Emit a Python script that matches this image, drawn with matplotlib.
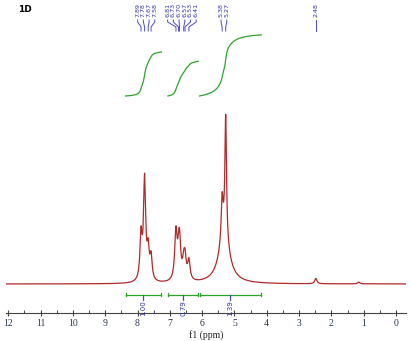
import numpy as np
import matplotlib
matplotlib.use("Agg")
import matplotlib.pyplot as plt
from matplotlib.transforms import blended_transform_factory

# ---- data ----
peak_ppm    = [7.89, 7.78, 7.67, 7.58, 6.81, 6.73, 6.70, 6.57, 6.53, 6.41, 5.38, 5.27, 5.32, 2.48, 1.15]
peak_height = [25,   57,   16,   13,   27,   6,    21,   8,    11,   11,   24,   70,   25,   3,    1]
peak_hwhm   = [0.04, 0.04, 0.04, 0.04, 0.045,0.045,0.045,0.045,0.045,0.045,0.035,0.03, 0.2,  0.04, 0.04]

label_groups = [["7.89", "7.78", "7.67", "7.58"],
                ["6.81", "6.73", "6.70", "6.57", "6.53", "6.41"],
                ["5.38", "5.27"],
                ["2.48"]]

integral_ranges = [(8.37, 7.26), (7.06, 6.12), (6.08, 4.17)]
integral_values = [1.00, 0.79, 1.39]
integral_labels = ["1.00", "0.79", "1.39"]

xticks = list(range(0, 13))
title = "1D"
xlabel = "f1 (ppm)"

# ---- figure ----
W, H = 413, 341
fig = plt.figure(figsize=(W / 100, H / 100), dpi=100)
ax = fig.add_axes([6 / W, 1 - 313 / H, 400 / W, 313 / H])

ppm = np.linspace(-0.31, 12.07, 6000)
spec = np.zeros_like(ppm)
for c, a, w in zip(peak_ppm, peak_height, peak_hwhm):
    spec += a / (1 + ((ppm - c) / w) ** 2)

px_per_unit = 1.77
ax.plot(ppm, spec, color="#b02a2a", lw=0.9)
ax.set_xlim(12.07, -0.31)
ax.set_ylim(-(313 - 284) / px_per_unit, 284 / px_per_unit)

for s in ["top", "left", "right"]:
    ax.spines[s].set_visible(False)
ax.spines["bottom"].set_color("#444444")
ax.spines["bottom"].set_linewidth(0.8)
ax.set_yticks([])
ax.set_xticks(xticks)
ax.set_xticks(np.arange(0.5, 12.5, 1.0), minor=True)
ax.tick_params(axis="x", which="major", direction="inout", length=4, width=0.8,
               color="#444444", labelsize=7, pad=2, labelcolor="#2a3550")
ax.tick_params(axis="x", which="minor", direction="in", length=2, width=0.7, color="#444444")
for lab in ax.get_xticklabels():
    lab.set_family("Liberation Serif")
ax.set_xlabel(xlabel, fontsize=7, family="Liberation Serif", labelpad=2, color="#222222")

fig.text(18 / W, 1 - 9 / H, title, fontsize=6.5, fontweight="bold", ha="left", va="center")

# ---- integrals ----
green = "#2aa52a"
bar_y = -(294.5 - 284) / px_per_unit
curve_base = (284 - 96) / px_per_unit
int_scale = 44 / px_per_unit
for (a, b), val, lab in zip(integral_ranges, integral_values, integral_labels):
    ax.plot([a, b], [bar_y, bar_y], color=green, lw=0.9)
    for e in (a, b):
        ax.plot([e, e], [bar_y - 0.8, bar_y + 0.8], color=green, lw=0.9)
    m = (ppm <= a) & (ppm >= b)
    xs = ppm[m][::-1]
    ys = spec[m][::-1]
    cum = np.cumsum(ys)
    cum = cum / cum[-1]
    ax.plot(xs, curve_base + cum * val * int_scale, color=green, lw=0.9)
    mid = (a + b) / 2
    ax.plot([mid, mid], [bar_y, bar_y - 5.5 / px_per_unit], color="#4a4ac8", lw=0.9)
    ax.text(mid, bar_y - 5.5 / px_per_unit, lab, rotation=90, ha="center", va="top",
            fontsize=5, color="#3030b0")

# ---- peak labels ----
tr = blended_transform_factory(ax.transData, fig.transFigure)
spacing = 5.7 / 32.3
blue = "#3030b0"
for grp in label_groups:
    vals = [float(v) for v in grp]
    center = np.mean(vals)
    n = len(vals)
    for i, (v, s) in enumerate(zip(vals, grp)):
        lx = center + ((n - 1) / 2 - i) * spacing
        ax.text(lx, 1 - 3 / H, s, rotation=90, ha="center", va="top", fontsize=4.6,
                color=blue, transform=tr)
        ys = [1 - 20 / H, 1 - 22 / H, 1 - 27 / H, 1 - 31 / H]
        xs = [lx, lx, v, v]
        ax.plot(xs, ys, color="#4a4ac8", lw=0.7, transform=tr, clip_on=False)

fig.savefig("out.png", dpi=100)
